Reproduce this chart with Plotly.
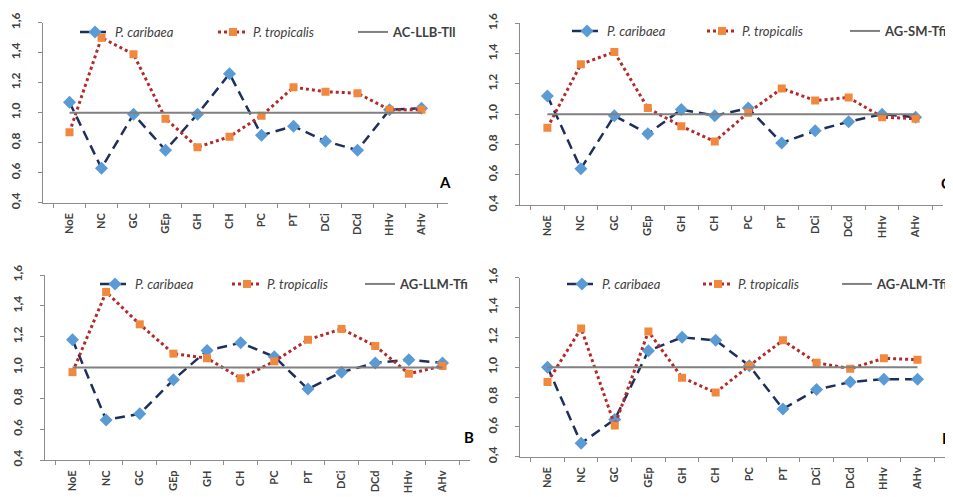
import plotly.graph_objects as go

categories = ["NoE", "NC", "GC", "GEp", "GH", "CH", "PC", "PT", "DCi", "DCd", "HHv", "AHv"]

caribaea_A = [1.07, 0.63, 0.99, 0.75, 0.99, 1.26, 0.85, 0.91, 0.81, 0.75, 1.02, 1.03]
tropicalis_A = [0.87, 1.50, 1.39, 0.96, 0.77, 0.84, 0.98, 1.17, 1.14, 1.13, 1.02, 1.02]

caribaea_C = [1.12, 0.64, 0.99, 0.87, 1.03, 0.99, 1.04, 0.81, 0.89, 0.95, 1.00, 0.98]
tropicalis_C = [0.91, 1.33, 1.41, 1.04, 0.92, 0.82, 1.01, 1.17, 1.09, 1.11, 0.98, 0.97]

caribaea_B = [1.18, 0.66, 0.70, 0.92, 1.11, 1.16, 1.07, 0.86, 0.97, 1.03, 1.05, 1.03]
tropicalis_B = [0.97, 1.49, 1.28, 1.09, 1.06, 0.93, 1.04, 1.18, 1.25, 1.14, 0.96, 1.01]

caribaea_D = [1.00, 0.49, 0.65, 1.11, 1.20, 1.18, 1.01, 0.72, 0.85, 0.90, 0.92, 0.92]
tropicalis_D = [0.90, 1.26, 0.61, 1.24, 0.93, 0.83, 1.01, 1.18, 1.03, 0.99, 1.06, 1.05]

reference_value = 1.0
reference_names = ["AC-LLB-Tll", "AG-LLM-Tfi", "AG-SM-Tfi", "AG-ALM-Tfi"]
panel_letters = ["A", "B", "C", "D"]

# the page body has an 8px margin, so the figure is drawn 8px in from the window's corner
PAGE_W, PAGE_H, OFF = 953, 497, 8
W, H = PAGE_W - OFF, PAGE_H - OFF
FONT = "Lato"
TXT_OFF = 40  # legend text starts this many px right of the legend's x


def px(x):
    return (x - OFF) / W


def py(y):
    return 1 - (y - OFF) / H


# panel pixel boxes in window coords: (x0, x1, ytop, ybottom); legend text x-starts (None = right-aligned)
panels = [
    dict(box=(43, 448, 22.7, 202.7), car=caribaea_A, tro=tropicalis_A, ref=reference_names[0], letter="A",
         legx=(115, 253, 393), legy=32, let=(445, 182)),
    dict(box=(45, 470, 275, 460), car=caribaea_B, tro=tropicalis_B, ref=reference_names[1], letter="B",
         legx=(135, 267, 400), legy=284, let=(469, 437)),
    dict(box=(520, 943, 23.3, 205), car=caribaea_C, tro=tropicalis_C, ref=reference_names[2], letter="C",
         legx=(607, 742, None), legy=31, let=(946, 183)),
    dict(box=(520, 945, 277.7, 456.7), car=caribaea_D, tro=tropicalis_D, ref=reference_names[3], letter="D",
         legx=(602, 738, None), legy=284, let=(947, 438)),
]

fig = go.Figure()
layout = dict(
    width=W, height=H,
    margin=dict(l=0, r=0, t=0, b=0, autoexpand=False),
    paper_bgcolor="white", plot_bgcolor="white",
    separators=",.",
    font=dict(family=FONT, color="#404040"),
    showlegend=True,
)

annotations = []
for i, p in enumerate(panels):
    n = "" if i == 0 else str(i + 1)
    xa, ya = "x" + n, "y" + n
    x0, x1, yt, yb = p["box"]
    layout["xaxis" + n] = dict(
        domain=[px(x0), px(x1)], anchor=ya, type="category",
        categoryorder="array", categoryarray=categories,
        showline=True, linecolor="#8c8c8c", linewidth=1.3,
        ticks="outside", tickson="boundaries", ticklen=4, tickcolor="#8c8c8c",
        tickangle=-90, tickfont=dict(family=FONT, size=11, color="#404040", weight="bold"),
        ticklabelstandoff=5, automargin=False,
        showgrid=False, zeroline=False, fixedrange=True,
    )
    layout["yaxis" + n] = dict(
        domain=[py(yb), py(yt)], anchor=xa,
        range=[0.4, 1.6], dtick=0.2, tick0=0.4, tickformat=".1f",
        showline=True, linecolor="#8c8c8c", linewidth=1.3,
        ticks="outside", ticklen=4, tickcolor="#8c8c8c",
        tickangle=-90, tickfont=dict(family=FONT, size=12, color="#404040", weight="bold"),
        ticklabelstandoff=13, automargin=False,
        showgrid=False, zeroline=False, fixedrange=True,
    )
    legs = []
    for j in range(3):
        k = i * 3 + j + 1
        lg = "legend" if k == 1 else "legend%d" % k
        legs.append(lg)
        tx = p["legx"][j]
        if tx is None:
            lx, anchor = 1.0, "right"
        else:
            lx, anchor = px(tx - TXT_OFF), "left"
        layout[lg] = dict(
            orientation="h", x=lx, y=py(p["legy"]),
            xanchor=anchor, yanchor="middle", bgcolor="rgba(0,0,0,0)",
            font=dict(family=FONT, size=13, color="#404040"),
        )
    fig.add_trace(go.Scatter(
        x=categories, y=p["car"], xaxis=xa, yaxis=ya, legend=legs[0],
        name="<i>P. caribaea</i>", mode="lines+markers",
        line=dict(color="#1f2f5c", width=2.5, dash="10px,6px"),
        marker=dict(symbol="diamond", size=10, color="#5b9bd5"),
    ))
    fig.add_trace(go.Scatter(
        x=categories, y=p["tro"], xaxis=xa, yaxis=ya, legend=legs[1],
        name="<i>P. tropicalis</i>", mode="lines+markers",
        line=dict(color="#b22a2a", width=3, dash="dot"),
        marker=dict(symbol="square", size=8, color="#f0883e"),
    ))
    fig.add_trace(go.Scatter(
        x=categories, y=[reference_value] * len(categories), xaxis=xa, yaxis=ya, legend=legs[2],
        name="<b>" + p["ref"] + "</b>", mode="lines",
        line=dict(color="#808080", width=2),
    ))
    annotations.append(dict(
        text="<b>" + p["letter"] + "</b>", x=px(p["let"][0]), y=py(p["let"][1]),
        xref="paper", yref="paper", showarrow=False, xanchor="center", yanchor="middle",
        font=dict(family=FONT, size=15, color="#000000"),
    ))

layout["annotations"] = annotations
fig.update_layout(**layout)
fig.write_html("out.html")
